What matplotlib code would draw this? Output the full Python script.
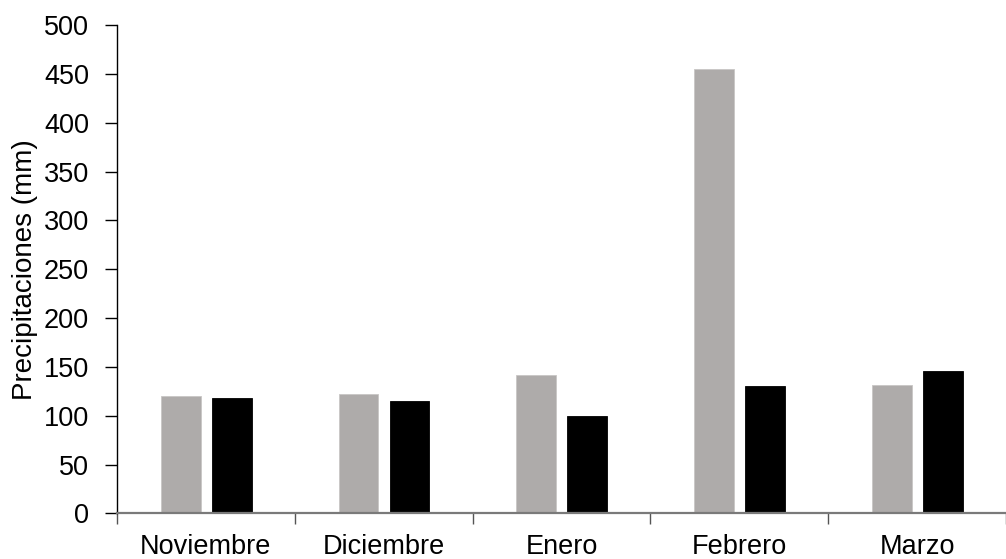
import numpy as np
import matplotlib
matplotlib.use("Agg")
from matplotlib import pyplot as plt

plt.rcParams['font.family'] = ['Liberation Sans', 'DejaVu Sans']

# Data
months = ['Noviembre', 'Diciembre', 'Enero', 'Febrero', 'Marzo']
serie_gris = [120, 122, 142, 455, 132]
serie_negra = [118, 115, 100, 130, 146]

fig = plt.figure(figsize=(10.06, 5.59), dpi=100)
ax = fig.add_axes([0.1163, 0.0814, 0.8837, 0.874])

x = np.arange(len(months))
width = 0.224
ax.bar(x - 0.142, serie_gris, width, color='#aeabaa', edgecolor='#c8c6c5', linewidth=0.6)
ax.bar(x + 0.145, serie_negra, width, color='black', edgecolor='black', linewidth=0.6)

# Axis ranges: plot is clipped on the right like the original
ax.set_xlim(-0.5, 4.42)
ax.set_ylim(0, 500)
ax.set_yticks(np.arange(0, 501, 50))

# Category ticks sit at boundaries, labels at centres
ax.set_xticks(np.arange(-0.5, 4.6, 1.0))
ax.set_xticklabels([])
ax.set_xticks(x, minor=True)
ax.set_xticklabels(months, minor=True)
ax.tick_params(axis='x', which='minor', length=0, pad=15, labelsize=19.5)
ax.tick_params(axis='x', which='major', direction='out', length=8, width=1, color='#555555')
ax.tick_params(axis='y', direction='out', length=9, width=1, color='black', pad=11, labelsize=19.5)

for side in ['top', 'right']:
    ax.spines[side].set_visible(False)
ax.spines['left'].set_color('black')
ax.spines['left'].set_linewidth(1)
ax.spines['bottom'].set_color('#7a7a7a')
ax.spines['bottom'].set_linewidth(1.6)

ax.set_ylabel('Precipitaciones (mm)', fontsize=20, labelpad=4)

fig.savefig('out.png', dpi=100)
